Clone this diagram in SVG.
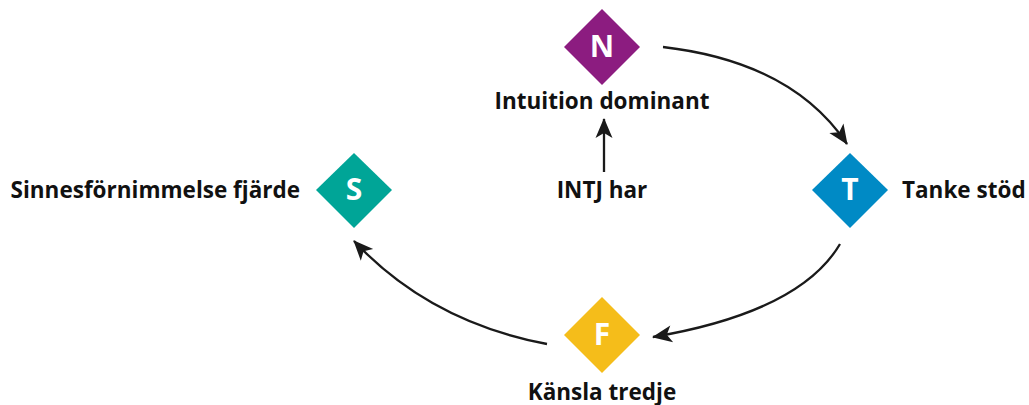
<svg xmlns="http://www.w3.org/2000/svg" width="1029" height="405" viewBox="0 0 1029 405">
<defs>
<style>
.lbl{font-family:"Open Sans","Liberation Sans",sans-serif;font-weight:bold;font-size:22.5px;fill:#111}
.let{font-family:"Open Sans","Liberation Sans",sans-serif;font-weight:bold;font-size:30px;fill:#fff;text-anchor:middle}
.con{fill:none;stroke:#1a1a1a;stroke-width:2.3}
</style>
<marker id="ah" markerUnits="userSpaceOnUse" refX="0" refY="0" markerWidth="40" markerHeight="40" orient="auto" overflow="visible">
<path d="M-19,-8.5 L1,0 L-19,8.5 L-14,0 Z" fill="#1a1a1a"/>
</marker>
</defs>
<rect width="1029" height="405" fill="#fff"/>
<g id="connectors">
<path class="con" d="M663,47 Q792,62 847,144" marker-end="url(#ah)"/>
<path class="con" d="M840,244 Q800,312 653,337" marker-end="url(#ah)"/>
<path class="con" d="M547,344 Q430,322 354,241" marker-end="url(#ah)"/>
<path class="con" d="M604,172 L604,119" marker-end="url(#ah)"/>
</g>
<g id="node-N">
<polygon points="602,9 640,47 602,85 564,47" fill="#8C1C80"/>
<text class="let" x="602" y="57">N</text>
<text class="lbl" x="602" y="109" text-anchor="middle">Intuition dominant</text>
</g>
<g id="node-T">
<polygon points="850,153 888,190 850,228 812,190" fill="#008AC5"/>
<text class="let" x="850" y="200">T</text>
<text class="lbl" x="902" y="198">Tanke stöd</text>
</g>
<g id="node-S">
<polygon points="354,153 392,190 354,228 316,190" fill="#00A597"/>
<text class="let" x="354" y="200">S</text>
<text class="lbl" x="300" y="198" text-anchor="end">Sinnesförnimmelse fjärde</text>
</g>
<g id="node-F">
<polygon points="602,297 640,335 602,373 564,335" fill="#F5BD1A"/>
<text class="let" x="602" y="345">F</text>
<text class="lbl" x="602" y="400" text-anchor="middle">Känsla tredje</text>
</g>
<g id="node-INTJ">
<text class="lbl" x="602" y="198" text-anchor="middle">INTJ har</text>
</g>
</svg>
